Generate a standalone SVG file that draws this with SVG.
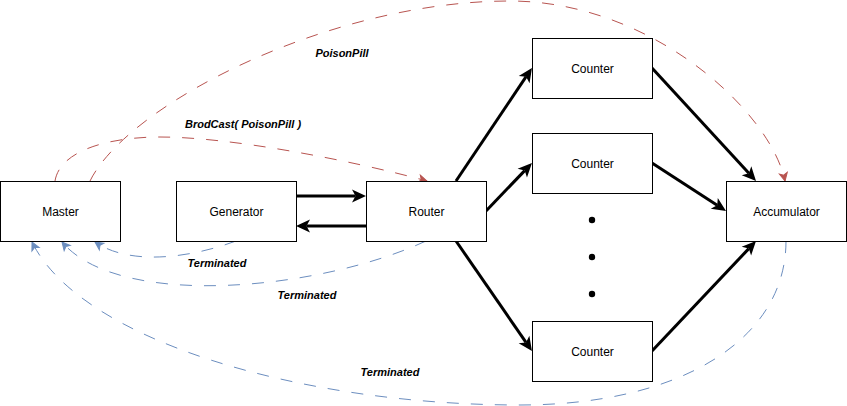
<svg xmlns="http://www.w3.org/2000/svg" width="847" height="406" viewBox="0 0 847 406">
<style>
.node rect{fill:#fff;stroke:#000;stroke-width:1}
.node text{font-family:"Liberation Sans",Arial,sans-serif;font-size:12px;fill:#000;text-anchor:middle}
.solid{fill:none;stroke:#000;stroke-width:3}
.red{fill:none;stroke:#b85450;stroke-width:1;stroke-dasharray:12 12}
.blue{fill:none;stroke:#6c8ebf;stroke-width:1;stroke-dasharray:12 12}
.lbl{font-family:"Liberation Sans",Arial,sans-serif;font-size:11px;font-weight:bold;font-style:italic;fill:#000;text-anchor:middle}
</style>
<defs>
<marker id="ab" markerUnits="userSpaceOnUse" markerWidth="16" markerHeight="16" refX="3.5" refY="0" orient="auto" viewBox="0 -8 16 16" overflow="visible">
<path d="M14,0 L0,-6.5 L3.5,0 L0,6.5 Z" fill="#000"/>
</marker>
<marker id="ar" markerUnits="userSpaceOnUse" markerWidth="10" markerHeight="10" refX="8" refY="0" orient="auto" viewBox="0 -5 10 10" overflow="visible">
<path d="M8,0 L0,-4 L2,0 L0,4 Z" fill="#b85450" stroke="#b85450" stroke-width="1"/>
</marker>
<marker id="abl" markerUnits="userSpaceOnUse" markerWidth="10" markerHeight="10" refX="8" refY="0" orient="auto" viewBox="0 -5 10 10" overflow="visible">
<path d="M8,0 L0,-4 L2,0 L0,4 Z" fill="#6c8ebf" stroke="#6c8ebf" stroke-width="1"/>
</marker>
</defs>
<rect width="847" height="406" fill="#fff"/>
<g id="connectors">
<line class="solid" x1="296" y1="196" x2="355.5" y2="196" marker-end="url(#ab)"/>
<line class="solid" x1="366" y1="226" x2="306.5" y2="226" marker-end="url(#ab)"/>
<line class="solid" x1="456" y1="181" x2="526.1" y2="76.7" marker-end="url(#ab)"/>
<line class="solid" x1="486" y1="211" x2="524.7" y2="170.6" marker-end="url(#ab)"/>
<line class="solid" x1="456" y1="241" x2="526.0" y2="342.4" marker-end="url(#ab)"/>
<line class="solid" x1="652" y1="68" x2="748.9" y2="173.3" marker-end="url(#ab)"/>
<line class="solid" x1="652" y1="163" x2="717.2" y2="205.3" marker-end="url(#ab)"/>
<line class="solid" x1="652" y1="351" x2="748.8" y2="248.6" marker-end="url(#ab)"/>
<path class="red" d="M90,181 C128,104 330,1 510,1 C650,1 770,110 785,181" marker-end="url(#ar)"/>
<path class="red" d="M55,181 C60,150 110,137 160,137 C230,137 350,160 427,181" marker-end="url(#ar)"/>
<path class="blue" d="M236,241 C190,258 130,266 95,242" marker-end="url(#abl)"/>
<path class="blue" d="M426,241 C320,290 120,310 62,242" marker-end="url(#abl)"/>
<path class="blue" d="M786,241 C786,340 680,405 520,405 C300,405 80,340 32,242" marker-end="url(#abl)"/>
<text class="lbl" x="342" y="57">PoisonPill</text>
<text class="lbl" x="243" y="128">BrodCast( PoisonPill )</text>
<text class="lbl" x="217" y="267">Terminated</text>
<text class="lbl" x="307" y="299">Terminated</text>
<text class="lbl" x="390" y="376">Terminated</text>
</g>
<g id="master" class="node"><rect x="0.5" y="181.5" width="120" height="60"/><text x="60.5" y="215.5">Master</text></g>
<g id="generator" class="node"><rect x="176.5" y="181.5" width="120" height="60"/><text x="236.5" y="215.5">Generator</text></g>
<g id="router" class="node"><rect x="366.5" y="181.5" width="120" height="60"/><text x="426.5" y="215.5">Router</text></g>
<g id="counter1" class="node"><rect x="532.5" y="38.5" width="120" height="60"/><text x="592.5" y="72.5">Counter</text></g>
<g id="counter2" class="node"><rect x="532.5" y="133.5" width="120" height="60"/><text x="592.5" y="167.5">Counter</text></g>
<g id="counter3" class="node"><rect x="532.5" y="321.5" width="120" height="60"/><text x="592.5" y="355.5">Counter</text></g>
<g id="accumulator" class="node"><rect x="726.5" y="181.5" width="120" height="60"/><text x="786.5" y="215.5">Accumulator</text></g>
<g id="dots">
<circle cx="592" cy="220" r="3.2" fill="#000"/>
<circle cx="592" cy="257" r="3.2" fill="#000"/>
<circle cx="592" cy="294" r="3.2" fill="#000"/>
</g>
</svg>
